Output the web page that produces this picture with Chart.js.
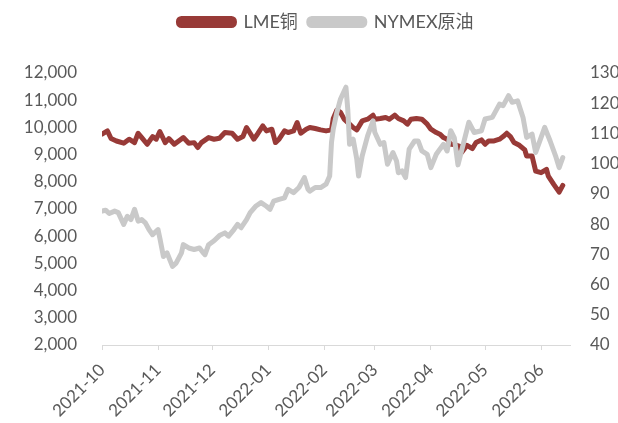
<!DOCTYPE html>
<html>
<head>
<meta charset="utf-8">
<script src="https://cdn.jsdelivr.net/npm/chart.js@4.4.0/dist/chart.umd.min.js"></script>
<style>
  html, body { margin: 0; padding: 0; background: #fff; }
  #wrap { width: 618px; height: 423px; }
</style>
</head>
<body>
<div id="wrap"><canvas id="myChart" width="618" height="423"></canvas></div>
<script>
// x values are days since 2021-10-01
var monthDays = [0, 31, 61, 92, 123, 151, 182, 212, 243];
var monthLabels = ['2021-10', '2021-11', '2021-12', '2022-01', '2022-02', '2022-03', '2022-04', '2022-05', '2022-06'];

var copperDays = [0, 3, 5, 8, 12, 15, 18, 20, 22, 25, 28, 30, 32, 35, 37, 40, 43, 45, 48, 51, 53, 55, 59, 62, 65,
  68, 72, 75, 78, 80, 82, 84, 86, 89, 91, 94, 96, 98, 101, 103, 106, 108, 110, 113, 115, 118, 121, 124, 127, 128, 130,
  132, 134, 137, 139, 141, 144, 147, 150, 151, 154, 157, 159, 162, 164, 167, 169, 171, 174, 177, 180, 182, 185, 187, 189, 191, 193, 195, 198,
  199, 202, 205, 207, 210, 212, 214, 217, 220, 222, 224, 226, 228, 231, 234, 235, 238, 240, 243, 246, 247, 250, 253, 255];
var copperPrice = [9750, 9870, 9590, 9500, 9420, 9565, 9440, 9785, 9625, 9380, 9660, 9565, 9850, 9440, 9590, 9380, 9530, 9625, 9420, 9440, 9260, 9440, 9625, 9565, 9600,
  9812, 9786, 9565, 9664, 9996, 9786, 9565, 9750, 10055, 9871, 9934, 9443, 9565, 9871, 9812, 9871, 10180, 9786, 9934, 9996, 9960, 9908, 9871, 9908, 10330, 10640,
  10550, 10303, 10118, 9996, 9908, 10240, 10303, 10450, 10303, 10328, 10365, 10303, 10450, 10328, 10240, 10118, 10303, 10328, 10303, 10118, 9934, 9812, 9750, 9627, 9565, 9380, 9370, 9300,
  9074, 9343, 9222, 9443, 9540, 9380, 9502, 9502, 9565, 9664, 9786, 9664, 9443, 9343, 9170, 8948, 8948, 8395, 8336, 8458, 8210, 7904, 7620, 7867];

var oilDays = [0, 2, 4, 7, 9, 12, 14, 16, 18, 20, 22, 24, 26, 28, 31, 32, 34, 36, 39, 41, 44, 45, 48, 51, 54, 56, 57, 59, 62, 65,
  68, 70, 73, 75, 77, 80, 82, 85, 88, 91, 93, 95, 98, 101, 103, 106, 109, 112, 114, 115, 118, 121, 124, 126, 127, 128, 130,
  132, 135, 136, 137, 139, 141, 142, 144, 147, 150, 151, 154, 156, 158, 161, 163, 164, 166, 168, 170, 173, 175, 177, 180, 182, 185, 187, 189, 191, 193, 195, 197,
  203, 206, 210, 212, 216, 220, 222, 225, 227, 230, 233, 235, 238, 240, 245, 248, 251, 253, 255];
var oilPrice = [84.3, 84.6, 83.5, 84.3, 83.8, 79.9, 82.6, 81.5, 84.9, 81.0, 81.5, 80.4, 78.2, 76.5, 78.2, 75.4, 69.3, 70.5, 66.0, 67.1, 70.5, 73.2, 72.1, 71.6, 72.1, 70.5, 69.9, 73.2, 74.5, 76.2,
  77.1, 76.0, 78.2, 79.9, 78.8, 81.5, 83.8, 85.9, 87.1, 85.9, 84.9, 87.6, 88.2, 88.7, 91.5, 90.4, 92.1, 95.4, 91.5, 90.9, 92.1, 92.1, 93.2, 95.9, 107.0, 111.5, 117.0,
  121.4, 125.3, 118.1, 106.4, 108.1, 101.5, 95.9, 102.6, 109.2, 114.2, 110.3, 106.4, 107.0, 99.8, 103.7, 100.9, 97.0, 97.6, 95.4, 104.8, 107.5, 107.5, 104.2, 103.1, 98.7, 103.1, 104.8, 106.4, 104.2, 110.9, 108.5, 99.6,
  113.7, 110.3, 110.9, 114.8, 115.3, 119.7, 119.2, 122.5, 120.3, 120.8, 115.3, 108.7, 109.8, 103.7, 112.0, 107.5, 102.6, 98.7, 102.0];

var font = "Lato, 'Noto Sans CJK SC', sans-serif";
var textColor = '#595959';

function toPoints(xs, ys) {
  return xs.map(function(d, i) { return { x: d, y: ys[i] }; });
}

// more room under the legend, and nudge the legend right like the original
var legendGap = {
  id: 'legendGap',
  beforeInit: function(chart) {
    var fit = chart.legend.fit;
    chart.legend.fit = function() {
      fit.bind(chart.legend)();
      this.height += 34;
    };
  },
  afterLayout: function(chart) {
    chart.legend.left += 17;
    chart.legend.right += 17;
    chart.legend.top += 2;
  }
};

var ctx = document.getElementById('myChart').getContext('2d');
var myChart = new Chart(ctx, {
  type: 'line',
  plugins: [legendGap],
  data: {
    datasets: [{
      label: 'LME铜',
      data: toPoints(copperDays, copperPrice),
      borderColor: '#983A37',
      backgroundColor: '#983A37',
      borderWidth: 5,
      yAxisID: 'y',
      order: 1
    }, {
      label: 'NYMEX原油',
      data: toPoints(oilDays, oilPrice),
      borderColor: '#C9C9C9',
      backgroundColor: '#C9C9C9',
      borderWidth: 5,
      yAxisID: 'y1',
      order: 0
    }]
  },
  options: {
    responsive: false,
    animation: false,
    layout: { padding: 0 },
    elements: {
      point: { radius: 0 },
      line: { tension: 0, borderCapStyle: 'round', borderJoinStyle: 'round' }
    },
    plugins: {
      tooltip: { enabled: false },
      legend: {
        position: 'top',
        labels: {
          boxWidth: 56,
          boxHeight: 7,
          useBorderRadius: true,
          borderRadius: 3,
          padding: 11,
          color: textColor,
          font: { family: font, size: 18 },
          sort: function(a, b) { return a.datasetIndex - b.datasetIndex; }
        }
      }
    },
    scales: {
      x: {
        type: 'linear',
        min: 0,
        max: 259,
        afterBuildTicks: function(axis) {
          axis.ticks = monthDays.map(function(d) { return { value: d }; });
        },
        afterFit: function(axis) { axis.height = 78; },
        ticks: {
          autoSkip: false,
          minRotation: 45,
          maxRotation: 45,
          padding: 10,
          color: textColor,
          font: { family: font, size: 17 },
          callback: function(value, index) { return monthLabels[index]; }
        },
        grid: { drawOnChartArea: false, drawTicks: true, tickLength: 5, color: '#D9D9D9' },
        border: { display: true, color: '#D9D9D9', width: 1 }
      },
      y: {
        position: 'left',
        min: 2000,
        max: 12000,
        afterFit: function(axis) { axis.width = 102; },
        ticks: {
          stepSize: 1000,
          padding: 25,
          color: textColor,
          font: { family: font, size: 17 },
          callback: function(value) { return value.toLocaleString('en-US'); }
        },
        grid: { display: false, drawTicks: false },
        border: { display: false }
      },
      y1: {
        position: 'right',
        min: 40,
        max: 130,
        afterFit: function(axis) { axis.width = 48; },
        ticks: {
          stepSize: 10,
          padding: 20,
          color: textColor,
          font: { family: font, size: 17 }
        },
        grid: { display: false, drawTicks: false },
        border: { display: false }
      }
    }
  }
});
</script>
</body>
</html>
